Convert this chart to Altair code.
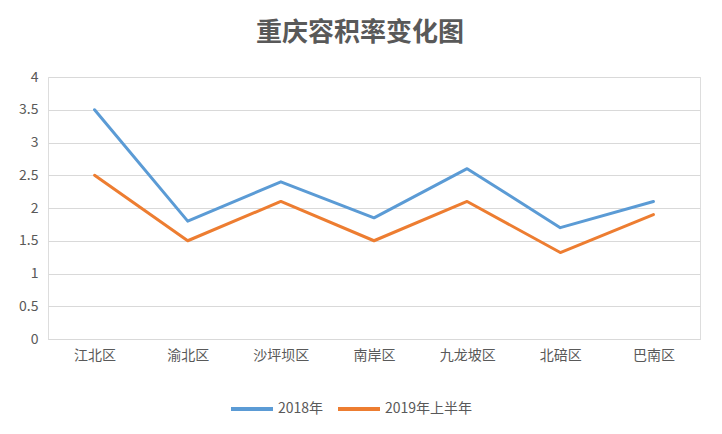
import altair as alt
import pandas as pd

districts = ["江北区", "渝北区", "沙坪坝区", "南岸区", "九龙坡区", "北碚区", "巴南区"]
series_names = ["2018年", "2019年上半年"]
values_2018 = [3.5, 1.8, 2.4, 1.85, 2.6, 1.7, 2.1]
values_2019h1 = [2.5, 1.5, 2.1, 1.5, 2.1, 1.32, 1.9]
colors = ["#5B9BD5", "#ED7D31"]
y_ticks = [0, 0.5, 1, 1.5, 2, 2.5, 3, 3.5, 4]

rows = []
for name, vals in zip(series_names, [values_2018, values_2019h1]):
    for d, v in zip(districts, vals):
        rows.append({"区域": d, "容积率": v, "系列": name})
df = pd.DataFrame(rows)

FONT = "Noto Sans CJK SC"
GREY = "#595959"

chart = alt.Chart(df).mark_line(strokeWidth=3, strokeCap="round", strokeJoin="round").encode(
    x=alt.X("区域:N", sort=districts, title=None,
            scale=alt.Scale(type="point", padding=0.5),
            axis=alt.Axis(labelAngle=0, labelFont=FONT, labelFontSize=14, labelColor=GREY,
                          ticks=False, domain=True, domainColor="#d9d9d9", domainWidth=1.2,
                          grid=False, labelPadding=9)),
    y=alt.Y("容积率:Q", title=None,
            scale=alt.Scale(domain=[0, 4], nice=False),
            axis=alt.Axis(values=y_ticks, format="~g", labelFont=FONT,
                          labelFontSize=14, labelColor=GREY, ticks=False, domain=False,
                          gridColor="#d9d9d9", gridWidth=1.2, labelPadding=10)),
    color=alt.Color("系列:N", sort=series_names,
                    scale=alt.Scale(domain=series_names, range=colors),
                    legend=alt.Legend(title=None, orient="none", direction="horizontal",
                                      legendX=181, legendY=309,
                                      symbolType="stroke", symbolSize=1764,
                                      symbolStrokeWidth=4, labelFont=FONT,
                                      labelFontSize=14, labelColor=GREY,
                                      columnPadding=6, labelOffset=3)),
).properties(
    width=652,
    height=262,
    title=alt.TitleParams("重庆容积率变化图", font=FONT, fontSize=26, fontWeight="bold",
                          color=GREY, anchor="middle", dx=-14, offset=24),
    autosize=alt.AutoSizeParams(type="none"),
    padding={"left": 40, "top": 69, "right": 14, "bottom": 86},
).configure_view(stroke=None).configure(background="white")

chart.save("out.html", embed_options={"renderer": "svg", "actions": False})
